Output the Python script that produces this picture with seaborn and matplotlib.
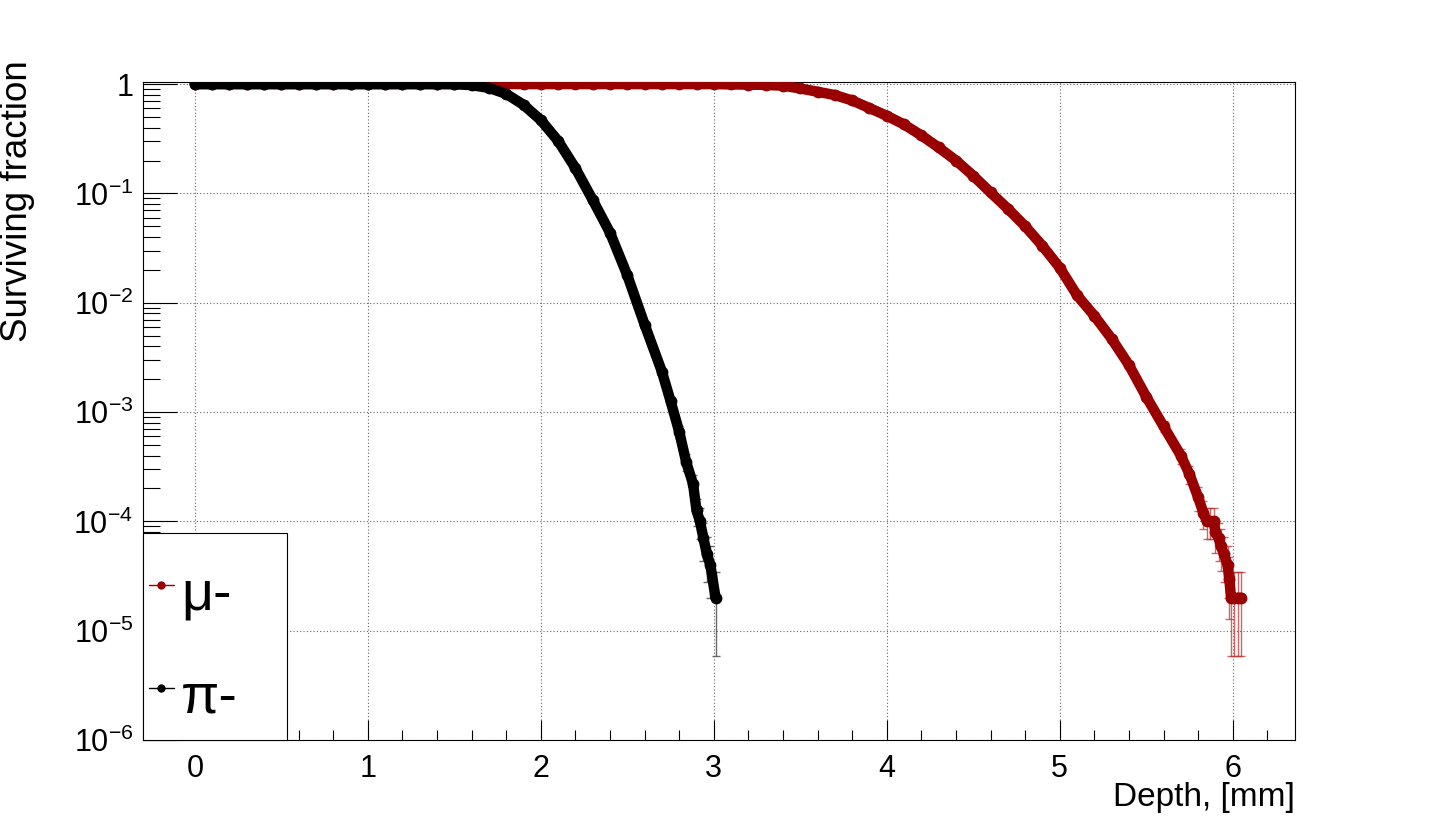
import numpy as np
import pandas as pd
import matplotlib
matplotlib.use("Agg")
import matplotlib.pyplot as plt
import seaborn as sns
from matplotlib.ticker import FixedLocator, FixedFormatter, LogLocator, MultipleLocator, NullFormatter
from matplotlib.lines import Line2D
from matplotlib.patches import Rectangle

# ---------------- data ----------------
mu_depth = [0.0, 0.1, 0.2, 0.3, 0.4, 0.5, 0.6, 0.7, 0.8, 0.9, 1.0, 1.1, 1.2, 1.3, 1.4, 1.5,
            1.6, 1.7, 1.8, 1.9, 2.0, 2.1, 2.2, 2.3, 2.4, 2.5, 2.6, 2.7, 2.8, 2.9, 3.0,
            3.1, 3.2, 3.3, 3.4, 3.5, 3.6, 3.7, 3.8, 3.9, 4.0, 4.1, 4.2, 4.3, 4.4, 4.5,
            4.6, 4.7, 4.8, 4.9, 5.0, 5.1, 5.2, 5.3, 5.4, 5.5, 5.6, 5.7, 5.75, 5.8, 5.83,
            5.85, 5.87, 5.89, 5.90, 5.92, 5.93, 5.95, 5.97, 5.98, 5.99, 6.01, 6.03, 6.05]
mu_frac = [1.0, 1.0, 1.0, 1.0, 1.0, 1.0, 1.0, 1.0, 1.0, 1.0, 1.0, 1.0, 1.0, 1.0, 1.0, 1.0,
           1.0, 1.0, 1.0, 1.0, 1.0, 1.0, 1.0, 1.0, 1.0, 1.0, 1.0, 1.0, 1.0, 1.0, 1.0,
           0.993, 0.989, 0.982, 0.966, 0.912, 0.851, 0.794, 0.708, 0.603, 0.513, 0.427,
           0.339, 0.263, 0.200, 0.145, 0.102, 0.0724, 0.0501, 0.0331, 0.0209, 0.0117,
           0.00759, 0.00468, 0.00269, 0.00138, 0.00074, 0.00040, 0.00027, 0.000166,
           0.00012, 1.0e-4, 1.0e-4, 1.0e-4, 8e-5, 7e-5, 6e-5, 5e-5, 4e-5, 3e-5,
           2e-5, 2e-5, 2e-5, 2e-5]

pi_depth = [0.0, 0.1, 0.2, 0.3, 0.4, 0.5, 0.6, 0.7, 0.8, 0.9, 1.0, 1.1, 1.2, 1.3, 1.4, 1.5,
            1.6, 1.7, 1.8, 1.9, 2.0, 2.1, 2.2, 2.3, 2.4, 2.5, 2.6, 2.7, 2.75, 2.8, 2.84,
            2.88, 2.90, 2.92, 2.94, 2.96, 2.98, 3.01]
pi_frac = [1.0, 1.0, 1.0, 1.0, 1.0, 1.0, 1.0, 1.0, 1.0, 1.0, 1.0, 1.0, 1.0, 1.0, 1.0, 1.0,
           0.977, 0.923, 0.813, 0.646, 0.468, 0.302, 0.170, 0.0871, 0.0437, 0.0178,
           0.00631, 0.00234, 0.00126, 0.00066, 0.00035, 0.00022, 0.000126, 1.0e-4,
           7e-5, 5e-5, 4e-5, 2e-5]

N_EVENTS = 100000  # simulated primaries (statistical error bars)

series_labels = ["μ-", "π-"]
series_colors = ["#990000", "#000000"]
error_colors = [(0.75, 0.2, 0.2, 0.75), (0.35, 0.35, 0.35, 0.9)]

x_ticks = [0, 1, 2, 3, 4, 5, 6]
y_ticks = [1e-6, 1e-5, 1e-4, 1e-3, 1e-2, 1e-1, 1.0]
y_tick_labels = [r"$10^{-6}$", r"$10^{-5}$", r"$10^{-4}$", r"$10^{-3}$",
                 r"$10^{-2}$", r"$10^{-1}$", "1"]
x_label = "Depth, [mm]"
y_label = "Surviving fraction"

# ---------------- style ----------------
sns.set_style("white")
plt.rcParams["font.family"] = ["Liberation Sans", "DejaVu Sans"]
plt.rcParams["mathtext.fontset"] = "custom"
plt.rcParams["mathtext.rm"] = "Liberation Sans"
plt.rcParams["mathtext.it"] = "Liberation Sans:italic"
plt.rcParams["mathtext.bf"] = "Liberation Sans:bold"
plt.rcParams["text.color"] = "black"
plt.rcParams["xtick.color"] = "black"
plt.rcParams["ytick.color"] = "black"
plt.rcParams["axes.labelcolor"] = "black"

W, H = 1438, 822
fig = plt.figure(figsize=(W / 100, H / 100), dpi=100)
fig.patch.set_facecolor("white")


def fx(px):
    return px / W


def fy(py):
    return 1 - py / H


ax = fig.add_axes([fx(143), fy(740), (1295 - 143) / W, (740 - 82) / H])

frames = []
for lab, d, f in [(series_labels[0], mu_depth, mu_frac), (series_labels[1], pi_depth, pi_frac)]:
    frames.append(pd.DataFrame({"depth": d, "frac": f, "particle": lab}))
df = pd.concat(frames, ignore_index=True)

for i, lab in enumerate(series_labels):
    sub = df[df["particle"] == lab]
    yerr = np.sqrt(sub["frac"].to_numpy() / N_EVENTS)
    ax.errorbar(sub["depth"], sub["frac"], yerr=yerr, fmt="none",
                ecolor=error_colors[i], elinewidth=1.0, capsize=3, capthick=1.0, zorder=3)
    sns.lineplot(data=sub, x="depth", y="frac", color=series_colors[i], ax=ax,
                 linewidth=7.5, marker="o", markersize=8.5, markeredgewidth=0,
                 errorbar=None, legend=False, zorder=4)

ax.set_yscale("log")
ax.set_xlim(-0.30, 6.36)
ax.set_ylim(1e-6, 1.045)

ax.xaxis.set_major_locator(FixedLocator(x_ticks))
ax.xaxis.set_major_formatter(FixedFormatter([str(t) for t in x_ticks]))
ax.xaxis.set_minor_locator(MultipleLocator(0.2))
ax.yaxis.set_major_locator(FixedLocator(y_ticks))
ax.yaxis.set_major_formatter(FixedFormatter(y_tick_labels))
ax.yaxis.set_minor_locator(LogLocator(base=10, subs=np.arange(2, 10), numticks=20))
ax.yaxis.set_minor_formatter(NullFormatter())

ax.tick_params(axis="x", which="major", direction="in", length=14.4, width=0.8,
               labelsize=22, pad=10, top=False, bottom=True, labelcolor="black")
ax.tick_params(axis="x", which="minor", direction="in", length=7.2, width=0.8,
               top=False, bottom=True)
ax.tick_params(axis="y", which="major", direction="in", length=24.5, width=0.8,
               labelsize=22, pad=7, left=True, right=False, labelcolor="black")
ax.tick_params(axis="y", which="minor", direction="in", length=12.3, width=0.8,
               left=True, right=False)

ax.grid(True, which="major", linestyle=(0, (1, 2)), color="#666666", linewidth=0.8)
ax.set_axisbelow(True)
for s in ax.spines.values():
    s.set_visible(True)
    s.set_color("black")
    s.set_linewidth(0.8)

ax.set_xlabel("")
ax.set_ylabel("")
fig.text(fx(1295), fy(797), x_label, ha="right", va="center", fontsize=24, color="black")
fig.text(fx(18), fy(60), y_label, ha="center", va="top", rotation=90, fontsize=26.5,
         color="black")

# ---------------- legend (ROOT style box) ----------------
ax.add_patch(Rectangle((fx(143), fy(740)), (287 - 143) / W, (740 - 533) / H,
                       transform=fig.transFigure, facecolor="white", edgecolor="black",
                       linewidth=0.8, zorder=10, clip_on=False))
entry_y = [585, 688]
text_base = [609, 712]
for i, lab in enumerate(series_labels):
    ax.add_line(Line2D([fx(149), fx(174)], [fy(entry_y[i])] * 2, transform=fig.transFigure,
                       color=series_colors[i], linewidth=1.0, zorder=11, clip_on=False))
    ax.add_line(Line2D([fx(161)], [fy(entry_y[i])], transform=fig.transFigure,
                       color=series_colors[i], marker="o", markersize=6, markeredgewidth=0,
                       linestyle="none", zorder=12, clip_on=False))
    fig.text(fx(181), fy(text_base[i]), lab, ha="left", va="baseline", fontsize=40,
             zorder=13, color="black")

fig.savefig("out.png", dpi=100, facecolor="white")
